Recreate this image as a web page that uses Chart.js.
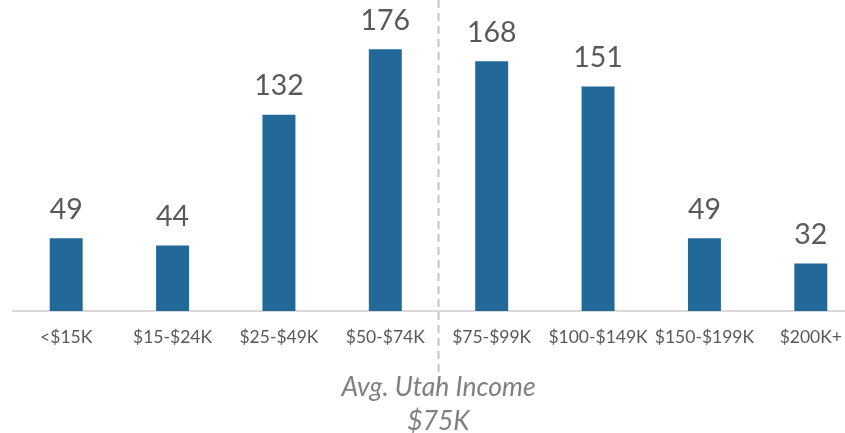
<!DOCTYPE html>
<html>
<head>
<meta charset="utf-8">
<script src="https://cdn.jsdelivr.net/npm/chart.js@4.4.0/dist/chart.umd.min.js"></script>
<style>
  html, body { margin: 0; padding: 0; background: #ffffff; overflow: hidden; width: 845px; height: 433px; }
  canvas { display: block; }
</style>
</head>
<body>
<canvas id="incomeChart" width="866" height="433"></canvas>
<script>
// Household income brackets and counts
const brackets = ['<$15K', '$15-$24K', '$25-$49K', '$50-$74K', '$75-$99K', '$100-$149K', '$150-$199K', '$200K+'];
const counts = [49, 44, 132, 176, 168, 151, 49, 32];

// Average income marker: sits between these two brackets
const avgAfterIndex = 3;
const avgLabelLines = ['Avg. Utah Income', '$75K'];

const BAR_COLOR = '#22699a';
const LABEL_COLOR = '#595959';
const NOTE_COLOR = '#808080';
const FONT = 'Lato, "Open Sans", sans-serif';

// Value labels above each bar
const valueLabels = {
  id: 'valueLabels',
  afterDatasetsDraw(chart) {
    const ctx = chart.ctx;
    const meta = chart.getDatasetMeta(0);
    ctx.save();
    ctx.font = '28.5px ' + FONT;
    ctx.fillStyle = LABEL_COLOR;
    ctx.textAlign = 'center';
    ctx.textBaseline = 'alphabetic';
    meta.data.forEach((bar, i) => {
      ctx.fillText(String(counts[i]), bar.x, bar.y - 19.5);
    });
    ctx.restore();
  }
};

// Dashed divider for the state average, with its caption underneath
const averageMarker = {
  id: 'averageMarker',
  afterDraw(chart) {
    const ctx = chart.ctx;
    const x = chart.scales.x;
    const px = (x.getPixelForValue(avgAfterIndex) + x.getPixelForValue(avgAfterIndex + 1)) / 2;
    ctx.save();
    ctx.strokeStyle = '#c4c4c4';
    ctx.lineWidth = 2;
    ctx.setLineDash([8, 5]);
    ctx.beginPath();
    ctx.moveTo(px, 0);
    ctx.lineTo(px, 378);
    ctx.stroke();
    ctx.setLineDash([]);
    ctx.font = 'italic 26.5px ' + FONT;
    ctx.fillStyle = NOTE_COLOR;
    ctx.textAlign = 'center';
    ctx.textBaseline = 'alphabetic';
    ctx.fillText(avgLabelLines[0], px, 395.5);
    ctx.fillText(avgLabelLines[1], px, 430);
    ctx.restore();
  }
};

new Chart(document.getElementById('incomeChart'), {
  type: 'bar',
  data: {
    labels: brackets,
    datasets: [{
      data: counts,
      backgroundColor: BAR_COLOR,
      borderWidth: 0,
      barPercentage: 0.31,
      categoryPercentage: 1.0
    }]
  },
  options: {
    responsive: false,
    animation: false,
    layout: { padding: { left: 13, right: 2, top: 13.6, bottom: 69 } },
    plugins: {
      legend: { display: false },
      tooltip: { enabled: false },
      title: { display: false }
    },
    scales: {
      x: {
        grid: { display: false, drawTicks: false },
        border: { display: true, color: '#d9d9d9', width: 2 },
        ticks: {
          color: LABEL_COLOR,
          font: { family: FONT, size: 17.5 },
          padding: 16,
          maxRotation: 0,
          autoSkip: false
        }
      },
      y: {
        display: false,
        min: 0,
        max: 200
      }
    }
  },
  plugins: [valueLabels, averageMarker]
});
</script>
</body>
</html>
